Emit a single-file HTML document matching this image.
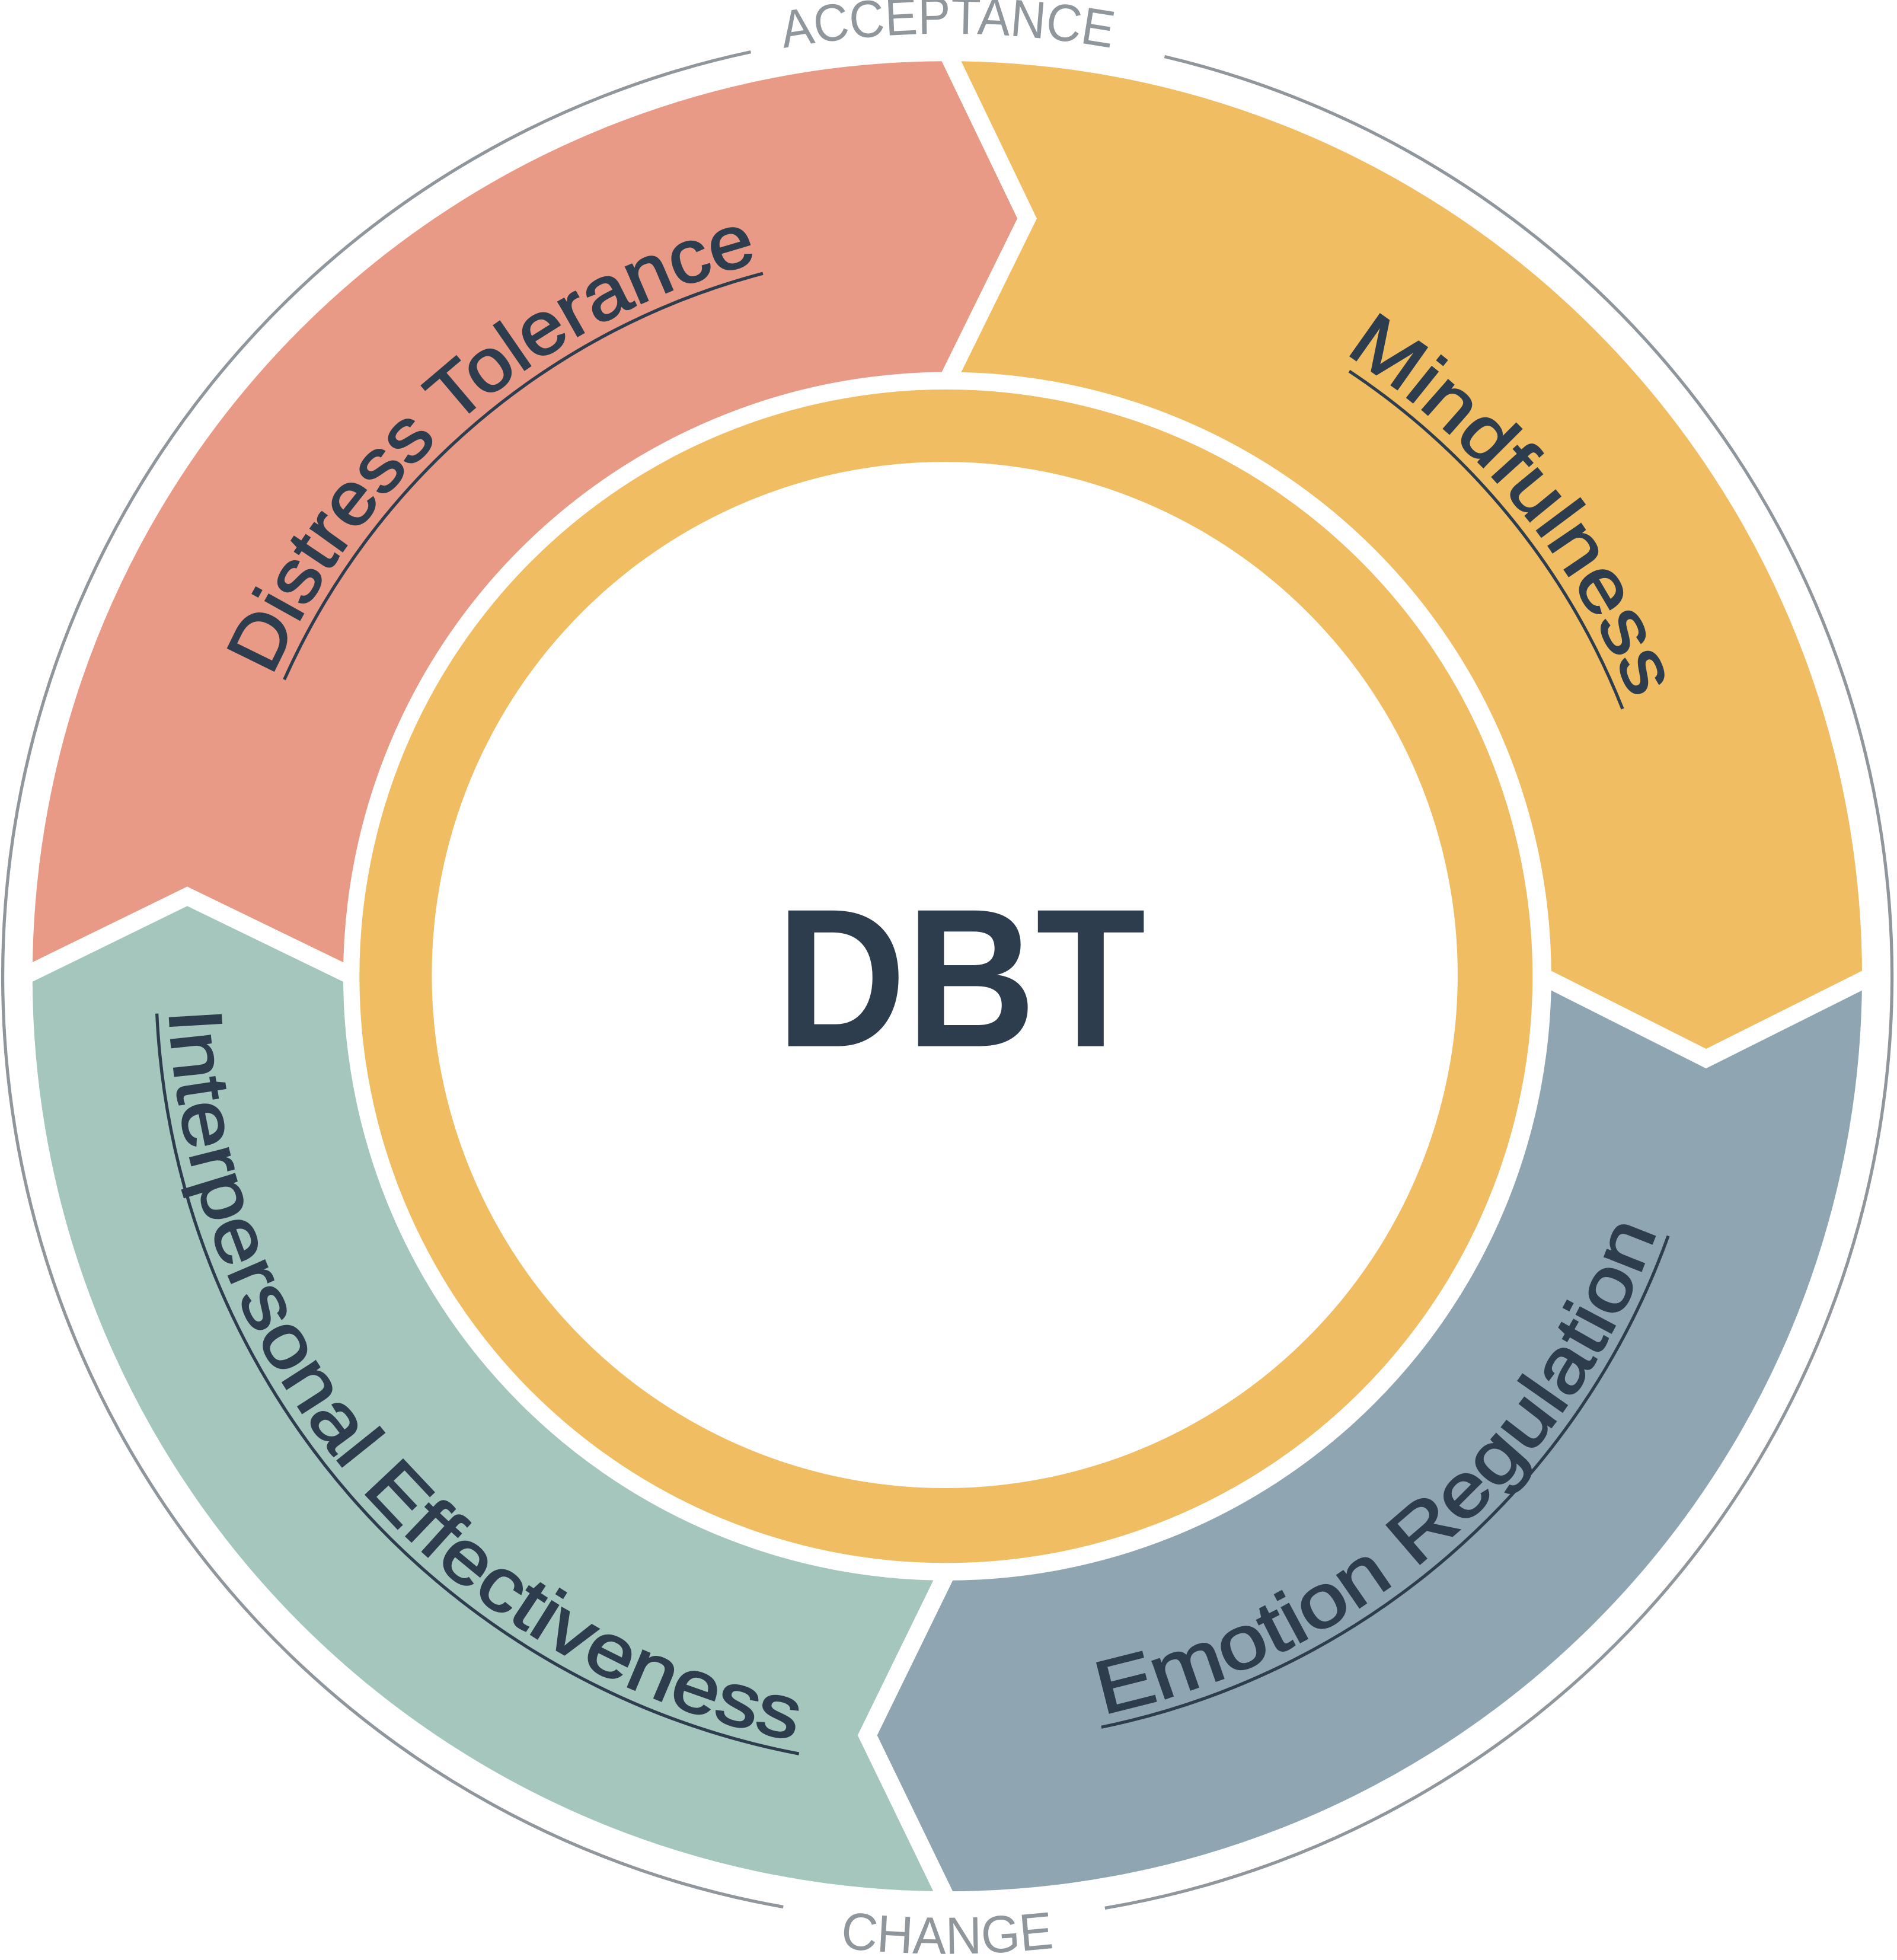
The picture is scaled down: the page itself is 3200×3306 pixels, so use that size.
<!DOCTYPE html>
<html><head><meta charset="utf-8"><style>html,body{margin:0;padding:0;background:#fff}svg{display:block}</style></head>
<body>
<svg width="3200" height="3306" viewBox="0 0 1520 1570" xmlns="http://www.w3.org/2000/svg" preserveAspectRatio="none">
<defs>
<path id="pM" d="M1077.1,282.7 A592,592 0 0 1 1308.3,561.2"/>
<path id="pD" d="M217.7,542.2 A592,592 0 0 1 609.8,209.1"/>
<path id="pE" d="M883.5,1373.0 A604,604 0 0 0 1328.7,982.6"/>
<path id="pI" d="M135.6,809.2 A624,624 0 0 0 641.0,1394.8"/>
<path id="pA" d="M627.9,38.5 A755,755 0 0 1 892.7,38.9"/>
<path id="pC" d="M673.1,1560.3 A783,783 0 0 0 844.9,1560.3"/>
</defs>
<g fill="none" stroke="#8f969c" stroke-width="2.5">
<path d="M933.1,45.3 A757,757 0 0 1 885.3,1528.4"/>
<path d="M627.6,1527.5 A757,757 0 0 1 601.6,41.6"/>
</g>
<g stroke="#fff" stroke-width="14" stroke-linejoin="miter">
<path fill="#e89a86" d="M19,782 A740,740 0 0 1 759,42 L823,175 L759,305 A477,477 0 0 0 282,782 L150,718 Z"/>
<path fill="#f0bd62" d="M759,42 A740,740 0 0 1 1499,782 L1367,848 L1236,782 A477,477 0 0 0 759,305 L823,175 Z"/>
<path fill="#8fa6b2" d="M1499,782 A740,740 0 0 1 759,1522 L695,1390 L759,1259 A477,477 0 0 0 1236,782 L1367,848 Z"/>
<path fill="#a5c6bd" d="M759,1522 A740,740 0 0 1 19,782 L150,718 L282,782 A477,477 0 0 0 759,1259 L695,1390 Z"/>
</g>
<circle cx="758" cy="782" r="470" fill="#f0bd62"/>
<circle cx="757" cy="781" r="411" fill="#fff"/>
<text x="770" y="838" text-anchor="middle" font-family="Liberation Sans, DejaVu Sans, sans-serif" font-weight="bold" font-size="158" fill="#2e3d4d" textLength="296" lengthAdjust="spacingAndGlyphs">DBT</text>
<g font-family="Liberation Sans, DejaVu Sans, sans-serif" font-size="60" fill="#2e3d4d" stroke="#2e3d4d" stroke-width="1.2">
<text><textPath href="#pM" textLength="367" lengthAdjust="spacingAndGlyphs">Mindfulness</textPath></text>
<text><textPath href="#pD" textLength="530" lengthAdjust="spacingAndGlyphs">Distress Tolerance</textPath></text>
<text><textPath href="#pE" textLength="615" lengthAdjust="spacingAndGlyphs">Emotion Regulation</textPath></text>
<text><textPath href="#pI" textLength="830" lengthAdjust="spacingAndGlyphs">Interpersonal Effectiveness</textPath></text>
</g>
<g font-family="Liberation Sans, DejaVu Sans, sans-serif" font-size="42" fill="#8f969c">
<text><textPath href="#pA" textLength="264" lengthAdjust="spacingAndGlyphs">ACCEPTANCE</textPath></text>
<text><textPath href="#pC" textLength="172" lengthAdjust="spacingAndGlyphs">CHANGE</textPath></text>
</g>
<g fill="none" stroke="#2e3d4d" stroke-width="2.5">
<path d="M1081.1,297.3 A582,582 0 0 1 1300.1,567.8"/>
<path d="M227.8,544.4 A582,582 0 0 1 611.3,219.0"/>
<path d="M882.5,1383.5 A614,614 0 0 0 1336.7,990.0"/>
<path d="M125.7,811.9 A634,634 0 0 0 640.2,1404.8"/>
</g>
</svg>
</body></html>
